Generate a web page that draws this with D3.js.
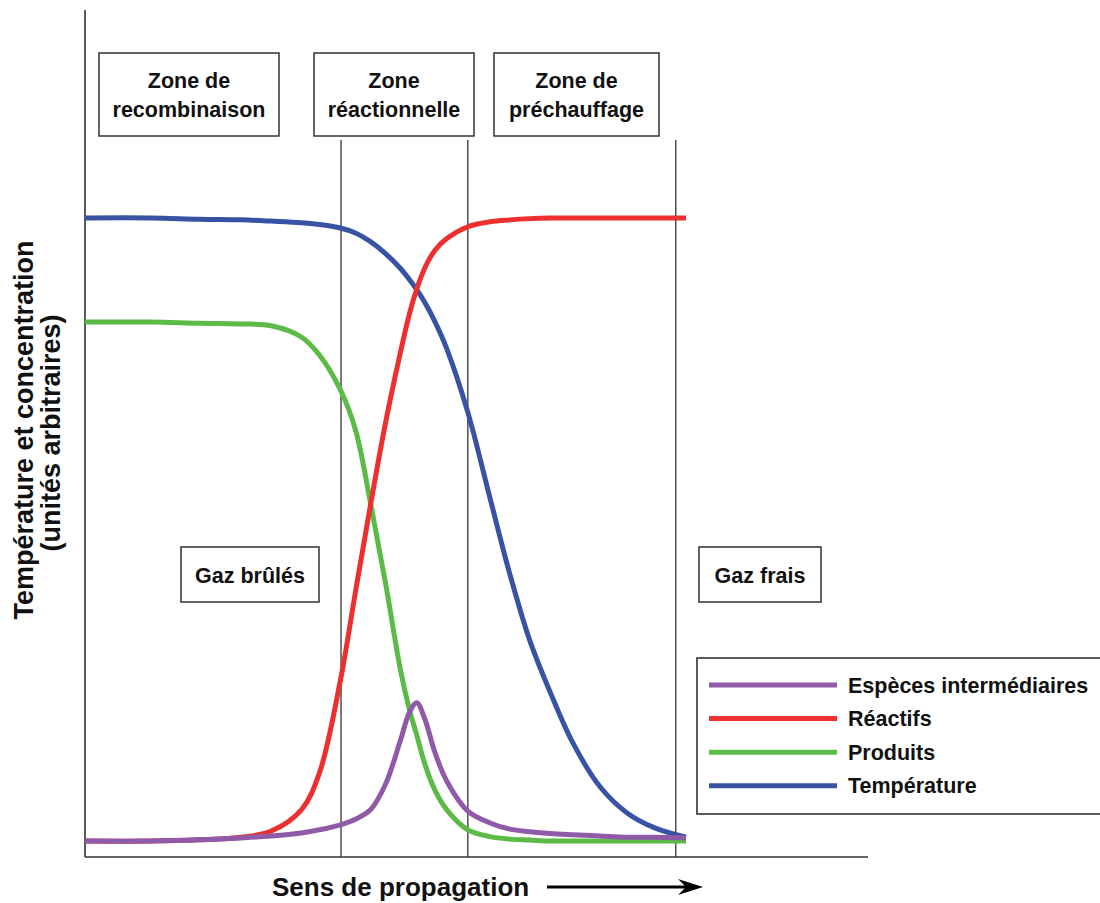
<!DOCTYPE html>
<html><head><meta charset="utf-8">
<script src="https://cdn.jsdelivr.net/npm/d3@7"></script>
<style>
html,body{margin:0;padding:0;background:#fff;}
svg text{font-family:"Liberation Sans",Arial,Helvetica,sans-serif;font-weight:bold;fill:#111;}
</style></head>
<body>
<svg id="chart" width="1100" height="903"></svg>
<script>
// ---- data (arbitrary units) ----
const position      = [0, 11, 19, 26, 31, 36, 39, 42.5, 45, 47.5, 50, 52.5, 54, 55.2, 56.5, 58.2, 60.2, 63.7, 67.4, 70.7, 74, 77.4, 81.2, 85.7, 90.2, 94.8, 100];
const temperature   = [100, 100, 99.8, 99.7, 99.5, 99.25, 98.95, 98.4, 97.6, 96.2, 94.3, 91.9, 90.1, 88.5, 86.5, 83.4, 79.0, 68.8, 55.0, 42.8, 32.2, 23.9, 15.7, 8.7, 4.5, 2.1, 0.6];
const reactifs      = [0, 0, 0.2, 0.6, 1.6, 5.0, 10.9, 25.8, 40.0, 53.9, 67.1, 78.5, 84.7, 88.6, 91.9, 94.8, 96.7, 98.6, 99.4, 99.7, 99.9, 100, 100, 100, 100, 100, 100];
const produits      = [83.3, 83.3, 83.1, 83.0, 82.7, 80.9, 78.0, 72.4, 66.0, 54.3, 41.4, 27.4, 21.0, 17.0, 12.5, 8.2, 5.0, 1.8, 0.7, 0.3, 0.15, 0, 0, 0, 0, 0, 0];
const intermediaires= [0, 0, 0.2, 0.5, 0.8, 1.3, 1.8, 2.6, 3.5, 5.0, 9.1, 16.2, 20.7, 22.2, 19.7, 14.3, 9.6, 4.8, 2.9, 1.9, 1.5, 1.2, 1.0, 0.8, 0.6, 0.6, 0.5];
const zoneBounds    = [42.6, 63.7, 98.3];
const seriesNames   = ["Espèces intermédiaires", "Réactifs", "Produits", "Température"];
const seriesColors  = ["#8f5aa8", "#ee2f2f", "#5cba47", "#3953a4"];
const zoneLabels    = [["Zone de", "recombinaison"], ["Zone", "réactionnelle"], ["Zone de", "préchauffage"]];
const gasLabels     = ["Gaz brûlés", "Gaz frais"];

const seriesValues = [intermediaires, reactifs, produits, temperature];

const svg = d3.select("#chart");
const x = d3.scaleLinear().domain([0, 100]).range([85, 686]);
const y = d3.scaleLinear().domain([0, 100]).range([841, 218]);

// axes (plain lines, no ticks)
svg.append("line").attr("x1", 85).attr("x2", 85).attr("y1", 10).attr("y2", 857)
  .attr("stroke", "#333").attr("stroke-width", 1.6);
svg.append("line").attr("x1", 85).attr("x2", 868).attr("y1", 857).attr("y2", 857)
  .attr("stroke", "#333").attr("stroke-width", 1.6);

// zone boundaries
svg.selectAll("line.zone").data(zoneBounds).join("line").attr("class", "zone")
  .attr("x1", d => x(d)).attr("x2", d => x(d)).attr("y1", 140).attr("y2", 857)
  .attr("stroke", "#333").attr("stroke-width", 1.3);

// zone label boxes
const zoneBoxes = [{x0: 99, x1: 279}, {x0: 314, x1: 474}, {x0: 494, x1: 659}];
zoneBoxes.forEach((b, i) => {
  svg.append("rect").attr("x", b.x0).attr("y", 53).attr("width", b.x1 - b.x0).attr("height", 83)
    .attr("fill", "#fff").attr("stroke", "#333").attr("stroke-width", 1.5);
  const t = svg.append("text").attr("text-anchor", "middle").attr("font-size", 21.5);
  zoneLabels[i].forEach((s, j) => {
    t.append("tspan").attr("x", (b.x0 + b.x1) / 2).attr("y", 88 + j * 29).text(s);
  });
});

// gas boxes
const gasBoxes = [{x0: 181, x1: 319}, {x0: 699, x1: 821}];
gasBoxes.forEach((b, i) => {
  svg.append("rect").attr("x", b.x0).attr("y", 547).attr("width", b.x1 - b.x0).attr("height", 55)
    .attr("fill", "#fff").attr("stroke", "#333").attr("stroke-width", 1.5);
  svg.append("text").attr("x", (b.x0 + b.x1) / 2).attr("y", 583).attr("text-anchor", "middle")
    .attr("font-size", 21.5).text(gasLabels[i]);
});

// curves
const line = d3.line().x(d => x(d[0])).y(d => y(d[1])).curve(d3.curveCatmullRom.alpha(0.5));
const drawOrder = [3, 2, 1, 0];
drawOrder.forEach(k => {
  const pts = position.map((p, i) => [p, seriesValues[k][i]]);
  svg.append("path").datum(pts).attr("d", line).attr("fill", "none")
    .attr("stroke", seriesColors[k]).attr("stroke-width", 5).attr("stroke-linejoin", "round");
});

// legend
svg.append("rect").attr("x", 697).attr("y", 658).attr("width", 420).attr("height", 156)
  .attr("fill", "#fff").attr("stroke", "#333").attr("stroke-width", 1.6);
seriesNames.forEach((n, i) => {
  const yy = 685 + i * 33.6;
  svg.append("line").attr("x1", 709).attr("x2", 837).attr("y1", yy).attr("y2", yy)
    .attr("stroke", seriesColors[i]).attr("stroke-width", 5);
  svg.append("text").attr("x", 848).attr("y", yy + 7.5).attr("font-size", 21.5).text(n);
});

// axis titles
svg.append("text").attr("transform", "translate(33,430) rotate(-90)").attr("text-anchor", "middle")
  .attr("font-size", 27).text("Température et concentration");
svg.append("text").attr("transform", "translate(60,433) rotate(-90)").attr("text-anchor", "middle")
  .attr("font-size", 27).text("(unités arbitraires)");

svg.append("text").attr("x", 272).attr("y", 896).attr("font-size", 26).text("Sens de propagation");
svg.append("line").attr("x1", 547).attr("x2", 692).attr("y1", 887).attr("y2", 887)
  .attr("stroke", "#000").attr("stroke-width", 3);
svg.append("path").attr("d", "M703,887 L678,879 L686,887 L678,895 Z").attr("fill", "#000");
</script>
</body></html>
